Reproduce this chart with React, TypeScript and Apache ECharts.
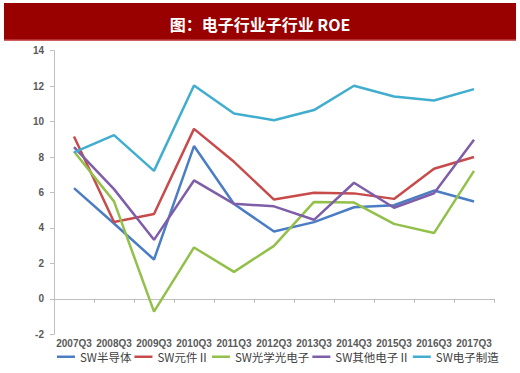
import React, { useEffect, useRef } from "react";
import * as echarts from "echarts";

const categories = ["2007Q3", "2008Q3", "2009Q3", "2010Q3", "2011Q3", "2012Q3", "2013Q3", "2014Q3", "2015Q3", "2016Q3", "2017Q3"];
const seriesNames = ["SW半导体", "SW元件Ⅱ", "SW光学光电子", "SW其他电子Ⅱ", "SW电子制造"];
const semiconductor = [6.25, 4.25, 2.22, 8.62, 5.35, 3.8, 4.33, 5.17, 5.28, 6.11, 5.49];
const components = [9.16, 4.34, 4.79, 9.59, 7.73, 5.6, 5.99, 5.95, 5.64, 7.34, 8.0];
const optoelectronics = [8.31, 5.5, -0.72, 2.9, 1.52, 2.99, 5.47, 5.43, 4.23, 3.71, 7.22];
const otherElectronics = [8.56, 6.19, 3.33, 6.68, 5.36, 5.22, 4.46, 6.55, 5.14, 5.96, 8.97];
const manufacturing = [8.26, 9.24, 7.22, 12.04, 10.46, 10.08, 10.65, 12.02, 11.42, 11.19, 11.83];
const colors = ["#4a7dc4", "#c84b4b", "#93c04a", "#7e5ea8", "#41adcf"];
const allValues = [semiconductor, components, optoelectronics, otherElectronics, manufacturing];

export default function App() {
  const ref = useRef<HTMLDivElement>(null);
  useEffect(() => {
    if (!ref.current) return;
    const chart = echarts.init(ref.current, undefined, { renderer: "svg" });
    chart.setOption({
      animation: false,
      backgroundColor: "#ffffff",
      graphic: [
        { type: "rect", shape: { x: 4, y: 3, width: 512, height: 37 }, style: { fill: "#990000" }, z: 0 },
        { type: "rect", shape: { x: 4, y: 39.5, width: 512, height: 1.5 }, style: { fill: "#d06060" }, z: 0 },
      ],
      title: {
        text: "图：电子行业子行业 ROE",
        left: "center",
        top: 11,
        textStyle: { color: "#ffffff", fontSize: 16, fontWeight: "bold", fontFamily: "Noto Sans CJK SC" },
      },
      legend: {
        data: seriesNames,
        left: 52,
        top: 346,
        icon: "rect",
        itemWidth: 18,
        itemHeight: 2.5,
        itemGap: 3,
        textStyle: { fontSize: 11.5, color: "#404040", fontFamily: "Noto Sans CJK SC" },
      },
      grid: { left: 54, right: 26, top: 50.7, bottom: 38.7, containLabel: false },
      xAxis: {
        type: "category",
        data: categories,
        boundaryGap: true,
        axisLine: { onZero: true, lineStyle: { color: "#bfbfbf", width: 1 } },
        axisTick: { show: true, length: 4, lineStyle: { color: "#bfbfbf" } },
        axisLabel: { interval: 0, margin: 4, fontSize: 10, fontWeight: "bold", color: "#595959", fontFamily: "Liberation Sans" },
      },
      yAxis: {
        type: "value",
        min: -2,
        max: 14,
        interval: 2,
        axisLine: { show: true, lineStyle: { color: "#bfbfbf", width: 1 } },
        axisTick: { show: true, length: 4, lineStyle: { color: "#bfbfbf" } },
        splitLine: { show: false },
        axisLabel: { fontSize: 10, fontWeight: "bold", color: "#595959", margin: 10, fontFamily: "Liberation Sans" },
      },
      series: seriesNames.map((name, i) => ({
        name,
        type: "line",
        data: allValues[i],
        symbol: "none",
        lineStyle: { color: colors[i], width: 2.5 },
        itemStyle: { color: colors[i] },
      })),
    });
    return () => chart.dispose();
  }, []);
  return <div ref={ref} style={{ position: "fixed", left: 0, top: 0, width: 520, height: 373 }} />;
}
